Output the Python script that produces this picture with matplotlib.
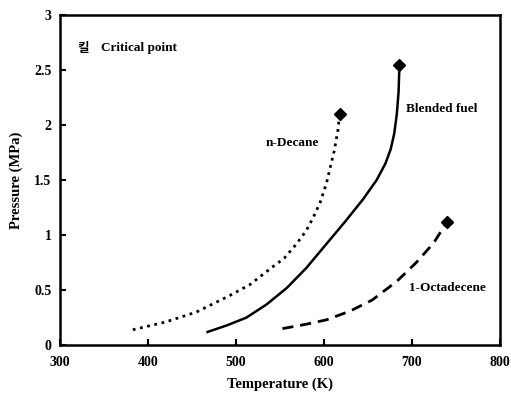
import matplotlib
matplotlib.use("Agg")
import matplotlib.pyplot as plt

plt.rcParams['font.family'] = ['Liberation Serif', 'Noto Sans CJK KR']

# values (T in K, P in MPa)
decane_T = [383, 420, 455, 493, 516, 540, 555, 569, 580, 588, 596, 603, 612, 616, 618]
decane_P = [0.14, 0.21, 0.30, 0.45, 0.55, 0.70, 0.79, 0.92, 1.04, 1.16, 1.30, 1.47, 1.77, 1.95, 2.10]

blend_T = [468, 490, 512, 535, 558, 580, 603, 625, 645, 660, 670, 676, 680, 683, 685, 686]
blend_P = [0.12, 0.18, 0.25, 0.37, 0.52, 0.70, 0.92, 1.13, 1.33, 1.50, 1.65, 1.78, 1.92, 2.10, 2.30, 2.55]

octa_T = [553, 580, 603, 630, 655, 683, 705, 725, 740]
octa_P = [0.15, 0.19, 0.23, 0.31, 0.41, 0.58, 0.75, 0.93, 1.12]

crit_T = [618, 686, 740]
crit_P = [2.10, 2.55, 1.12]

fig = plt.figure(figsize=(5.11, 3.99), dpi=100)
ax = fig.add_axes([0.117, 0.135, 0.861, 0.827])

ax.plot(decane_T, decane_P, color='black', linestyle=':', linewidth=2.0)
ax.plot(blend_T, blend_P, color='black', linestyle='-', linewidth=1.8)
ax.plot(octa_T, octa_P, color='black', linestyle=(0, (4, 2.5)), linewidth=2.0)
ax.plot(crit_T, crit_P, linestyle='none', marker='D', markersize=6, color='black')

ax.text(564, 1.84, 'n-Decane', fontsize=9.5, fontweight='bold', ha='center', va='center')
ax.text(734, 2.15, 'Blended fuel', fontsize=9.5, fontweight='bold', ha='center', va='center')
ax.text(740, 0.52, '1-Octadecene', fontsize=9.5, fontweight='bold', ha='center', va='center')
ax.text(326, 2.7, '킬', fontsize=9, fontweight='bold', ha='center', va='center',
        family=['Noto Sans CJK KR'])
ax.text(347, 2.7, 'Critical point', fontsize=9.5, fontweight='bold', ha='left', va='center')

ax.set_xlim(300, 800)
ax.set_ylim(0, 3)
ax.set_xticks([300, 400, 500, 600, 700, 800])
ax.set_yticks([0, 0.5, 1, 1.5, 2, 2.5, 3])
ax.set_yticklabels(['0', '0.5', '1', '1.5', '2', '2.5', '3'])
ax.tick_params(direction='in', length=4, width=1.5, labelsize=10)
ax.tick_params(axis='x', pad=8)
ax.tick_params(axis='y', pad=6)
for lab in ax.get_xticklabels() + ax.get_yticklabels():
    lab.set_fontweight('bold')
for s in ax.spines.values():
    s.set_linewidth(1.8)

ax.set_xlabel('Temperature (K)', fontsize=10.5, fontweight='bold', labelpad=6)
ax.set_ylabel('Pressure (MPa)', fontsize=10.5, fontweight='bold', labelpad=8)

fig.savefig('out.png', dpi=100)
